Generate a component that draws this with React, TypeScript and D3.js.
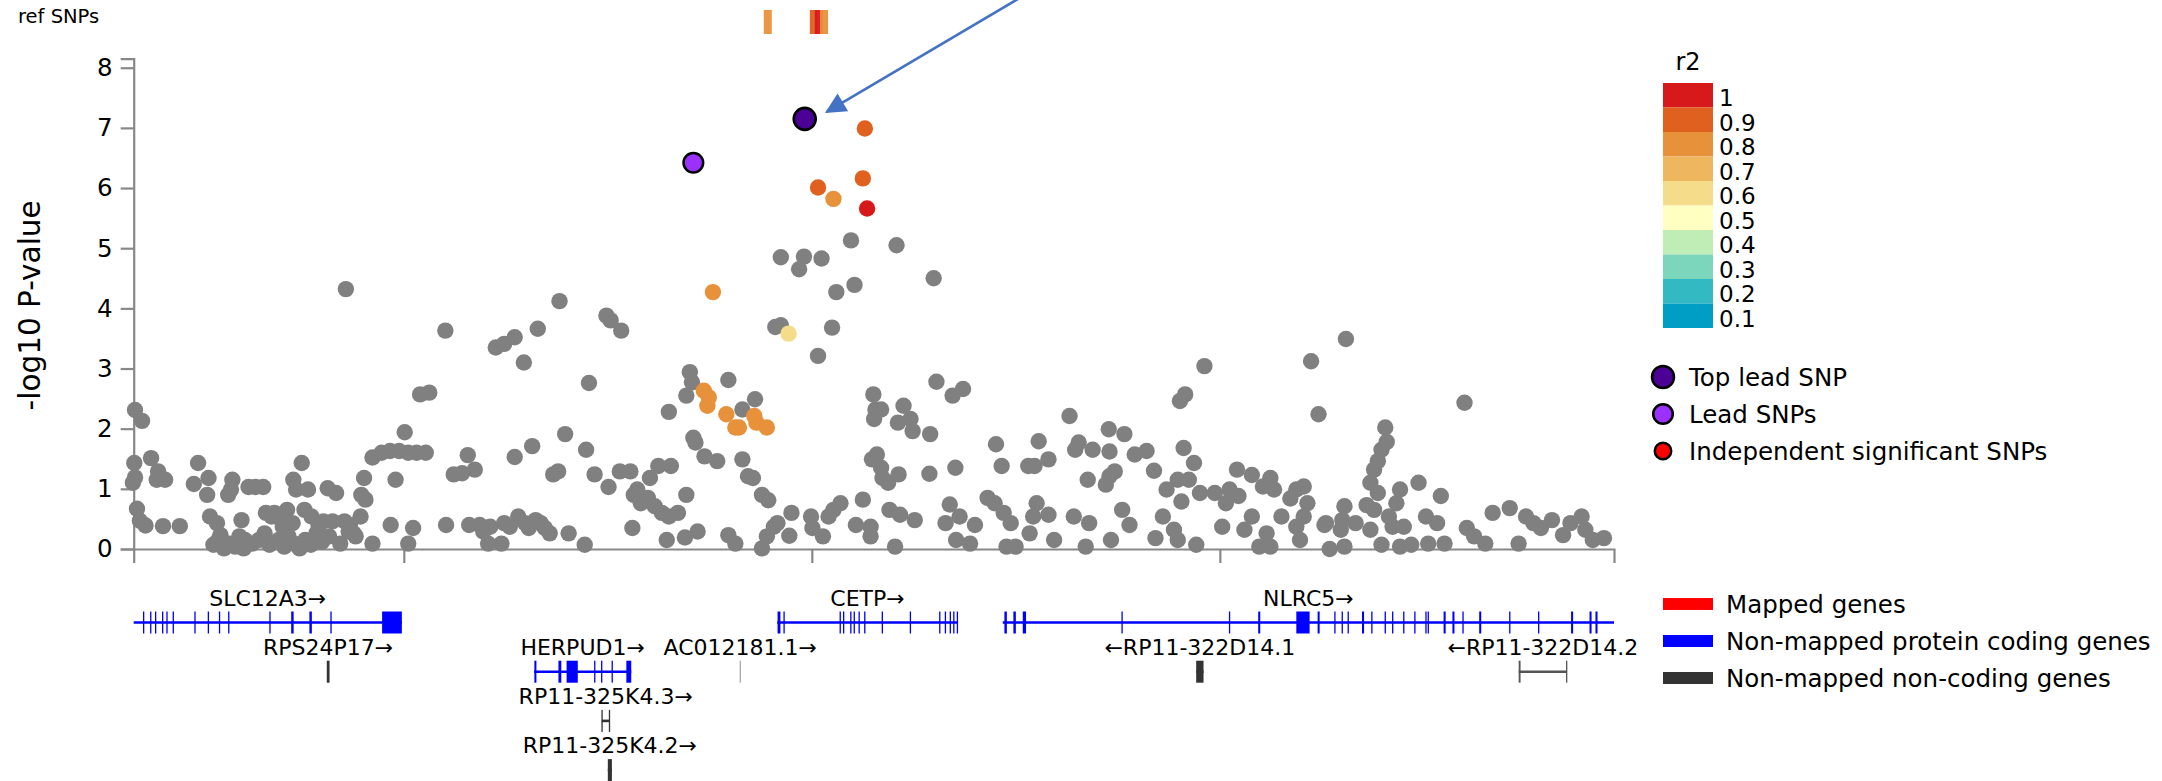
import React, { useEffect, useRef } from "react";
import * as d3 from "d3";

const W = 2162;
const H = 781;
const FONT = "DejaVu Sans";

// chr16 region, positions in kb
const regionKb: [number, number] = [56916.9, 57098.3];
const xTicks = [56950, 57000, 57050];
const yTicks = [0, 1, 2, 3, 4, 5, 6, 7, 8];

// GWAS SNPs without LD information: [position kb, -log10 P]
const graySnps: [number, number][] = [
  [56917.06, 2.31], [56917.92, 2.13], [56916.97, 1.43], [56917.06, 1.19], [56916.8, 1.1], [56917.3, 0.67],
  [56917.66, 0.47], [56918.35, 0.39], [56919.03, 1.51], [56919.89, 1.29], [56919.72, 1.15], [56920.75, 1.15],
  [56920.49, 0.38], [56922.55, 0.38], [56924.27, 1.08], [56924.79, 1.43], [56926.07, 1.18], [56925.9, 0.9],
  [56926.25, 0.54], [56927.1, 0.43], [56927.53, 0.23], [56927.79, 0.09], [56928.13, 0.04], [56928.82, 0.99],
  [56928.99, 1.15], [56928.48, 0.9], [56930.11, 0.48], [56930.54, 0.15], [56930.97, 1.03], [56931.82, 1.03],
  [56932.77, 1.03], [56933.11, 0.6], [56934.14, 0.6], [56935.17, 0.37], [56935.69, 0.65], [56936.46, 1.15],
  [56936.8, 0.99], [56937.49, 1.43], [56937.83, 0.65], [56938.26, 0.99], [56940.67, 1.01], [56941.7, 0.93],
  [56941.27, 0.46], [56942.73, 0.46], [56943.84, 0.26], [56944.7, 0.54], [56945.13, 1.18], [56944.79, 0.9],
  [56945.3, 0.82], [56946.16, 0.09], [56946.16, 1.52], [56947.28, 1.6], [56948.31, 1.63], [56949.42, 1.63],
  [56950.54, 1.6], [56951.57, 1.6], [56952.69, 1.6], [56950.11, 1.94], [56948.99, 1.15], [56948.39, 0.4],
  [56950.54, 0.09], [56951.14, 0.35], [56952.0, 2.57], [56953.12, 2.6], [56955.09, 3.63], [56955.18, 0.4],
  [56956.12, 1.24], [56957.15, 1.26], [56957.84, 1.56], [56958.7, 1.32], [56958.01, 0.4], [56959.3, 0.4],
  [56960.33, 0.09], [56961.96, 0.09], [56960.59, 0.37], [56962.3, 0.43], [56961.27, 3.35], [56962.3, 3.41],
  [56963.59, 3.52], [56963.59, 1.53], [56964.71, 3.1], [56965.73, 1.71], [56966.42, 3.66], [56964.02, 0.54],
  [56964.88, 0.43], [56966.16, 0.48], [56966.77, 0.43], [56967.88, 0.26], [56968.31, 1.24], [56968.91, 1.29],
  [56969.77, 1.91], [56970.2, 0.26], [56972.17, 0.07], [56972.34, 1.65], [56972.69, 2.76], [56973.38, 1.24],
  [56974.83, 3.88], [56975.35, 3.8], [56976.64, 3.63], [56975.09, 1.03], [56976.47, 1.29], [56977.76, 1.29],
  [56978.01, 0.35], [56978.18, 0.9], [56978.61, 0.99], [56980.16, 1.18], [56981.19, 1.38], [56982.73, 1.38],
  [56979.04, 0.76], [56979.9, 0.85], [56980.76, 0.71], [56981.62, 0.6], [56982.48, 0.54], [56983.59, 0.6],
  [56982.22, 0.15], [56984.45, 0.19], [56986.0, 0.29], [56982.48, 2.28], [56984.62, 2.55], [56985.05, 2.94],
  [56985.31, 2.77], [56984.62, 0.9], [56985.48, 1.85], [56985.74, 1.77], [56986.85, 1.54], [56988.4, 1.46],
  [56989.77, 2.81], [56991.49, 2.32], [56993.04, 2.49], [56991.49, 1.49], [56992.18, 1.21], [56992.78, 1.18],
  [56993.89, 0.9], [56994.66, 0.81], [56989.77, 0.23], [56990.63, 0.09], [56993.89, 0.01], [56994.49, 0.21],
  [56995.35, 0.37], [56995.78, 0.43], [56997.24, 0.22], [56997.5, 0.6], [56995.52, 3.69], [56996.21, 3.72],
  [57000.76, 3.21], [57002.48, 3.68], [56999.9, 0.54], [57000.07, 0.35], [57001.36, 0.21], [57002.05, 0.54],
  [57002.65, 0.65], [57003.51, 0.76], [57005.4, 0.4], [57006.25, 0.82], [57007.2, 0.37], [57007.2, 0.21],
  [57007.54, 2.57], [57007.8, 2.32], [57007.63, 2.16], [57008.49, 2.32], [57007.37, 1.49], [57007.97, 1.57],
  [57008.49, 1.35], [57008.66, 1.18], [57009.35, 1.1], [57010.63, 1.24], [57011.24, 2.38], [57010.55, 2.1],
  [57012.09, 2.16], [57012.35, 1.96], [57009.52, 0.65], [57010.81, 0.57], [57012.61, 0.48], [57010.2, 0.04],
  [57015.27, 2.78], [57017.25, 2.55], [57018.53, 2.66], [57014.5, 1.91], [57014.41, 1.25], [57017.59, 1.35],
  [57016.9, 0.74], [57016.39, 0.43], [57017.68, 0.15], [57018.11, 0.54], [57019.39, 0.09], [57019.99, 0.4],
  [57022.57, 1.74], [57023.26, 1.38], [57021.54, 0.85], [57022.4, 0.76], [57023.51, 0.6], [57024.37, 0.43],
  [57023.86, 0.04], [57024.97, 0.04], [57026.52, 1.38], [57027.29, 1.38], [57029.0, 1.49], [57027.8, 1.79],
  [57027.12, 0.54], [57027.55, 0.76], [57029.0, 0.57], [57029.69, 0.15], [57026.69, 0.26], [57031.58, 2.21],
  [57032.1, 0.54], [57032.27, 1.65], [57032.7, 1.77], [57033.81, 1.15], [57033.56, 0.04], [57034.41, 1.65],
  [57033.98, 0.43],
  // upper part of the CETP peak
  [57004.8, 5.13], [57010.38, 5.05], [56996.2, 4.85], [56999.04, 4.86], [57001.19, 4.83], [56998.44, 4.65],
  [57014.93, 4.5], [57003.0, 4.27], [57005.23, 4.39], [56942.9, 4.32], [56969.08, 4.12],
  // dense low-significance SNPs inside SLC12A3
  [56926.67, 0.07], [56927.27, 0.15], [56927.96, 0.01], [56928.65, 0.09], [56929.33, 0.04], [56929.85, 0.21],
  [56930.37, 0.01], [56931.4, 0.09], [56932.25, 0.15], [56932.94, 0.26], [56933.54, 0.07], [56934.66, 0.15],
  [56935.35, 0.04], [56935.86, 0.21], [56936.55, 0.09], [56937.23, 0.01], [56937.92, 0.15], [56938.61, 0.07],
  [56939.29, 0.26], [56939.98, 0.12], [56940.84, 0.21], [56942.21, 0.09], [56943.24, 0.29], [56944.1, 0.21],
  [56933.8, 0.54], [56935.0, 0.48], [56936.37, 0.43], [56938.69, 0.54], [56939.55, 0.4], [56940.15, 0.46],
  [56943.4, 0.4], [56959.73, 0.29], [56962.99, 0.37], [56965.31, 0.35], [56967.28, 0.35],
  // NLRC5 region
  [57065.45, 3.49], [57048.11, 3.04], [57061.18, 3.12], [57045.75, 2.57], [57045.11, 2.46], [57062.09, 2.24],
  [57079.98, 2.43], [57036.39, 1.99], [57038.3, 1.91], [57070.27, 2.02], [57070.45, 1.78], [57069.81, 1.65],
  [57069.36, 1.46], [57068.9, 1.32], [57036.48, 1.62], [57039.57, 1.57], [57041.02, 1.63], [57045.56, 1.68],
  [57046.83, 1.43], [57037.12, 1.29], [57036.48, 1.21], [57036.03, 1.07], [57041.93, 1.3], [57044.84, 1.15],
  [57043.47, 0.99], [57046.2, 1.15], [57045.29, 0.79], [57052.1, 1.32], [57053.92, 1.23], [57056.19, 1.18],
  [57055.28, 1.04], [57056.64, 0.99], [57059.37, 0.99], [57060.28, 1.04], [57058.64, 0.84], [57060.73, 0.76],
  [57047.56, 0.93], [57049.38, 0.93], [57051.19, 0.99], [57050.74, 0.76], [57052.28, 0.88], [57068.45, 1.1],
  [57069.36, 0.93], [57067.99, 0.73], [57072.08, 0.99], [57071.63, 0.76], [57074.35, 1.1], [57077.08, 0.88],
  [57065.27, 0.71], [57065.0, 0.48], [57063.0, 0.43], [57038.03, 0.65], [57038.93, 0.4], [57036.66, 0.15],
  [57043.02, 0.54], [57042.11, 0.18], [57044.38, 0.32], [57044.84, 0.15], [57047.11, 0.07], [57050.29, 0.37],
  [57053.01, 0.32], [57053.92, 0.54], [57055.73, 0.26], [57056.19, 0.04], [57057.55, 0.54], [57059.37, 0.37],
  [57059.82, 0.15], [57060.28, 0.54], [57062.82, 0.4], [57063.46, 0.0], [57065.27, 0.04], [57069.81, 0.07],
  [57072.08, 0.04], [57073.45, 0.07], [57075.53, 0.09], [57077.53, 0.09], [57080.26, 0.35], [57082.53, 0.09],
  [57081.16, 0.21], [57083.43, 0.6], [57085.52, 0.68], [57086.61, 0.09], [57087.52, 0.54], [57088.43, 0.43],
  [57089.34, 0.35], [57090.7, 0.48], [57092.06, 0.23], [57092.97, 0.43], [57094.33, 0.54], [57094.79, 0.32],
  [57095.7, 0.15], [57097.06, 0.18], [57075.26, 0.54], [57076.62, 0.43], [57070.72, 0.54], [57071.17, 0.37],
  [57068.45, 0.32], [57066.63, 0.43], [57068.9, 0.65], [57072.54, 0.37], [57064.82, 0.32], [57054.83, 0.04],
];

// SNPs in LD with the top lead SNP: [position kb, -log10 P, r2]
const ldSnps: [number, number, number][] = [
  [57006.5, 6.99, 0.9], [57006.25, 6.16, 0.9], [57000.76, 6.01, 0.9], [57002.65, 5.82, 0.8],
  [57006.77, 5.66, 1.0], [56987.88, 4.27, 0.8], [56997.15, 3.58, 0.6], [56986.77, 2.63, 0.8],
  [56987.37, 2.52, 0.8], [56987.2, 2.38, 0.8], [56989.52, 2.24, 0.8], [56990.63, 2.02, 0.8],
  [56991.06, 2.02, 0.8], [56992.95, 2.21, 0.8], [56993.21, 2.1, 0.8], [56994.49, 2.02, 0.8],
];

const leadSnps: [number, number][] = [[56985.48, 6.42]];
const topLeadSnp: [number, number] = [56999.13, 7.15];

// reference panel SNPs: [position kb, r2]
const refSnps: [number, number][] = [[56994.6, 0.8], [57000.25, 0.9], [57000.85, 1.0], [57001.5, 0.8]];

const r2Breaks = [1, 0.9, 0.8, 0.7, 0.6, 0.5, 0.4, 0.3, 0.2, 0.1];
const r2Colors = ["#d7191c", "#e0601f", "#e8913b", "#eeb65f", "#f5dc8a", "#ffffc2", "#c0ecb6", "#7cd6bb", "#32b9c2", "#009ec5"];

const leadLegend = ["Top lead SNP", "Lead SNPs", "Independent significant SNPs"];
const geneLegend = ["Mapped genes", "Non-mapped protein coding genes", "Non-mapped non-coding genes"];
const geneLegendColors = ["#ff0000", "#0000ff", "#333333"];

type Gene = {
  name: string;
  strand: 1 | -1;
  start: number;
  end: number;
  row: number;
  color: string;
  exons: [number, number][];
};

const genes: Gene[] = [
  {
    name: "SLC12A3", strand: 1, start: 56899.1, end: 56949.76, row: 0, color: "#0000ff",
    exons: [[56918.07, 56918.17], [56918.94, 56919.04], [56919.54, 56919.64], [56920.4, 56920.5],
      [56920.93, 56921.03], [56921.7, 56921.8], [56924.36, 56924.46], [56926.0, 56926.1],
      [56927.37, 56927.47], [56928.5, 56928.6], [56933.55, 56933.65], [56936.2, 56936.5],
      [56938.43, 56938.73], [56941.03, 56941.13], [56947.34, 56949.76]],
  },
  {
    name: "CETP", strand: 1, start: 56995.76, end: 57017.9, row: 0, color: "#0000ff",
    exons: [[56995.8, 56996.15], [56996.55, 56996.65], [57003.43, 57003.53], [57003.85, 57003.95],
      [57004.73, 57004.83], [57005.15, 57005.25], [57005.75, 57005.85], [57006.44, 57006.54],
      [57008.59, 57008.69], [57012.03, 57012.13], [57015.63, 57015.73], [57016.32, 57016.42],
      [57016.92, 57017.02], [57017.35, 57017.45], [57017.78, 57017.9]],
  },
  {
    name: "NLRC5", strand: 1, start: 57023.4, end: 57117.4, row: 0, color: "#0000ff",
    exons: [[57023.6, 57023.9], [57024.7, 57025.0], [57025.85, 57026.25], [57037.97, 57038.07],
      [57051.14, 57051.24], [57054.7, 57054.95], [57059.37, 57061.0], [57061.98, 57062.23],
      [57064.05, 57064.15], [57064.95, 57065.05], [57065.68, 57065.78], [57067.42, 57067.67],
      [57068.58, 57068.68], [57070.22, 57070.32], [57071.13, 57071.23], [57072.49, 57072.59],
      [57073.85, 57073.95], [57075.21, 57075.31], [57075.49, 57075.59], [57077.42, 57077.67],
      [57078.5, 57078.75], [57079.75, 57079.85], [57081.78, 57082.03], [57085.48, 57085.58],
      [57089.02, 57089.12], [57093.04, 57093.29], [57095.3, 57095.55], [57096.03, 57096.28]],
  },
  {
    name: "RPS24P17", strand: 1, start: 56940.56, end: 56940.9, row: 1, color: "#333333",
    exons: [[56940.56, 56940.9]],
  },
  {
    name: "HERPUD1", strand: 1, start: 56965.96, end: 56977.87, row: 1, color: "#0000ff",
    exons: [[56966.0, 56966.25], [56968.95, 56969.3], [56969.95, 56971.32], [56973.35, 56973.45],
      [56974.2, 56974.3], [56975.49, 56975.59], [56977.27, 56977.87]],
  },
  {
    name: "AC012181.1", strand: 1, start: 56991.17, end: 56991.3, row: 1, color: "#a8a8a8",
    exons: [[56991.17, 56991.3]],
  },
  {
    name: "RP11-322D14.1", strand: -1, start: 57047.1, end: 57048.0, row: 1, color: "#333333",
    exons: [[57047.1, 57048.0]],
  },
  {
    name: "RP11-322D14.2", strand: -1, start: 57086.62, end: 57092.55, row: 1, color: "#555555",
    exons: [[57086.62, 57086.85], [57092.45, 57092.55]],
  },
  {
    name: "RP11-325K4.3", strand: 1, start: 56974.26, end: 56975.24, row: 2, color: "#333333",
    exons: [[56974.26, 56974.33], [56975.17, 56975.24]],
  },
  {
    name: "RP11-325K4.2", strand: 1, start: 56975.0, end: 56975.5, row: 3, color: "#333333",
    exons: [[56975.0, 56975.5]],
  },
];

const plotLeft = 133.7;
const plotRight = 1614;
const plotBottom = 549;
const yTop = 58.7;

export default function App() {
  const yAxisRef = useRef<SVGGElement>(null);
  const xAxisRef = useRef<SVGGElement>(null);

  const x = d3.scaleLinear().domain(regionKb).range([plotLeft, plotRight]);
  const yMax = topLeadSnp[1] + 1;
  const y = d3.scaleLinear().domain([0, yMax]).range([plotBottom, yTop]);
  const r2Color = (r: number) => r2Colors[r2Breaks.indexOf(r)] ?? "#808080";

  useEffect(() => {
    if (yAxisRef.current) {
      const g = d3.select(yAxisRef.current);
      g.selectAll("*").remove();
      g.call(d3.axisLeft(y).tickValues(yTicks).tickSize(13).tickSizeOuter(13).tickPadding(8));
      g.select(".domain").attr("stroke", "#888").attr("stroke-width", 2.2);
      g.selectAll(".tick line").attr("stroke", "#888").attr("stroke-width", 2.2);
      g.selectAll(".tick text").attr("font-family", FONT).attr("font-size", 24.5).attr("fill", "#000");
    }
    if (xAxisRef.current) {
      const g = d3.select(xAxisRef.current);
      g.selectAll("*").remove();
      g.call(d3.axisBottom(x).tickValues(xTicks).tickSize(14).tickSizeOuter(14).tickFormat(() => ""));
      g.select(".domain").attr("stroke", "#888").attr("stroke-width", 2.2);
      g.selectAll(".tick line").attr("stroke", "#888").attr("stroke-width", 2.2);
    }
  });

  const clampX = (v: number) => Math.max(plotLeft, Math.min(plotRight, x(v)));
  const rowLabelY = (r: number) => 598 + r * 49.2;
  const rowGeneY = (r: number) => 622.5 + r * 49.2;

  const legendBlockH = 24.5;

  return (
    <svg
      width={W}
      height={H}
      viewBox={`0 0 ${W} ${H}`}
      style={{ position: "absolute", left: 0, top: 0, display: "block", background: "#fff" }}
      fontFamily={FONT}
    >
      <defs>
        <marker id="arrowHead" viewBox="0 0 10 10" refX="9" refY="5" markerWidth="10" markerHeight="8" markerUnits="strokeWidth" orient="auto">
          <path d="M0,0 L10,5 L0,10 z" fill="#4472c4" />
        </marker>
      </defs>

      {/* reference panel SNP track */}
      <text x={18} y={16} fontSize={19.5} dominantBaseline="central" fill="#000">ref SNPs</text>
      {refSnps.map(([p, r], i) => (
        <rect key={`ref${i}`} x={x(p) - 4} y={10} width={8} height={24} fill={r2Color(r)} opacity={0.95} />
      ))}

      {/* axes */}
      <g ref={yAxisRef} transform={`translate(${plotLeft},0)`} />
      <g ref={xAxisRef} transform={`translate(0,${plotBottom})`} />
      <text
        transform={`translate(30,${(y(0) + y(8)) / 2 - 3}) rotate(-90)`}
        textAnchor="middle"
        dominantBaseline="central"
        fontSize={29.5}
        fill="#000"
      >
        -log10 P-value
      </text>

      {/* SNPs */}
      <g>
        {graySnps.map(([p, v], i) => (
          <circle key={`g${i}`} cx={x(p)} cy={y(v)} r={8.2} fill="#808080" />
        ))}
        {ldSnps.map(([p, v, r], i) => (
          <circle key={`ld${i}`} cx={x(p)} cy={y(v)} r={8.2} fill={r2Color(r)} />
        ))}
        {leadSnps.map(([p, v], i) => (
          <circle key={`lead${i}`} cx={x(p)} cy={y(v)} r={9.8} fill="#9b30ff" stroke="#000" strokeWidth={2.5} />
        ))}
        <circle cx={x(topLeadSnp[0])} cy={y(topLeadSnp[1])} r={11} fill="#4b0096" stroke="#000" strokeWidth={2.6} />
      </g>

      {/* annotation arrow pointing at the top lead SNP */}
      <line
        x1={1045}
        y1={-17}
        x2={x(topLeadSnp[0]) + 22}
        y2={y(topLeadSnp[1]) - 7}
        stroke="#4472c4"
        strokeWidth={2.6}
        markerEnd="url(#arrowHead)"
      />

      {/* r2 colour legend */}
      <text x={1688} y={62} fontSize={24} textAnchor="middle" dominantBaseline="central" fill="#000">r2</text>
      {r2Breaks.map((b, i) => (
        <g key={`r2${i}`}>
          <rect x={1663} y={83 + i * legendBlockH} width={50} height={legendBlockH} fill={r2Colors[i]} />
          <text x={1719} y={83 + i * legendBlockH + 15} fontSize={23} dominantBaseline="central" fill="#000">
            {b}
          </text>
        </g>
      ))}

      {/* lead SNP legend */}
      {leadLegend.map((label, i) => {
        const cy = [377, 414, 451][i];
        const r = [11, 9.8, 8.2][i];
        const fill = ["#4b0096", "#9b30ff", "#ff0000"][i];
        return (
          <g key={`ll${i}`}>
            <circle cx={1663} cy={cy} r={r} fill={fill} stroke="#000" strokeWidth={2.5} />
            <text x={1689} y={cy} fontSize={24.5} dominantBaseline="central" fill="#000">{label}</text>
          </g>
        );
      })}

      {/* gene track */}
      {genes.map((g) => {
        const gy = rowGeneY(g.row);
        const x0 = clampX(g.start);
        const x1 = clampX(g.end);
        const label = g.strand === 1 ? `${g.name}→` : `←${g.name}`;
        return (
          <g key={g.name}>
            <text x={(x0 + x1) / 2} y={rowLabelY(g.row)} fontSize={22} textAnchor="middle" dominantBaseline="central" fill="#000">
              {label}
            </text>
            {x1 - x0 > 3 && <line x1={x0} x2={x1} y1={gy} y2={gy} stroke={g.color} strokeWidth={2.6} />}
            {g.exons.map(([s, e], j) => {
              const ex0 = clampX(s);
              const ex1 = clampX(e);
              const w = Math.max(1.3, ex1 - ex0);
              return <rect key={j} x={(ex0 + ex1) / 2 - w / 2} y={gy - 11} width={w} height={22} fill={g.color} />;
            })}
          </g>
        );
      })}

      {/* gene legend */}
      {geneLegend.map((label, i) => (
        <g key={`gl${i}`}>
          <rect x={1663} y={598 + i * 37} width={50} height={12} fill={geneLegendColors[i]} />
          <text x={1726} y={604 + i * 37} fontSize={24.5} dominantBaseline="central" fill="#000">{label}</text>
        </g>
      ))}
    </svg>
  );
}
